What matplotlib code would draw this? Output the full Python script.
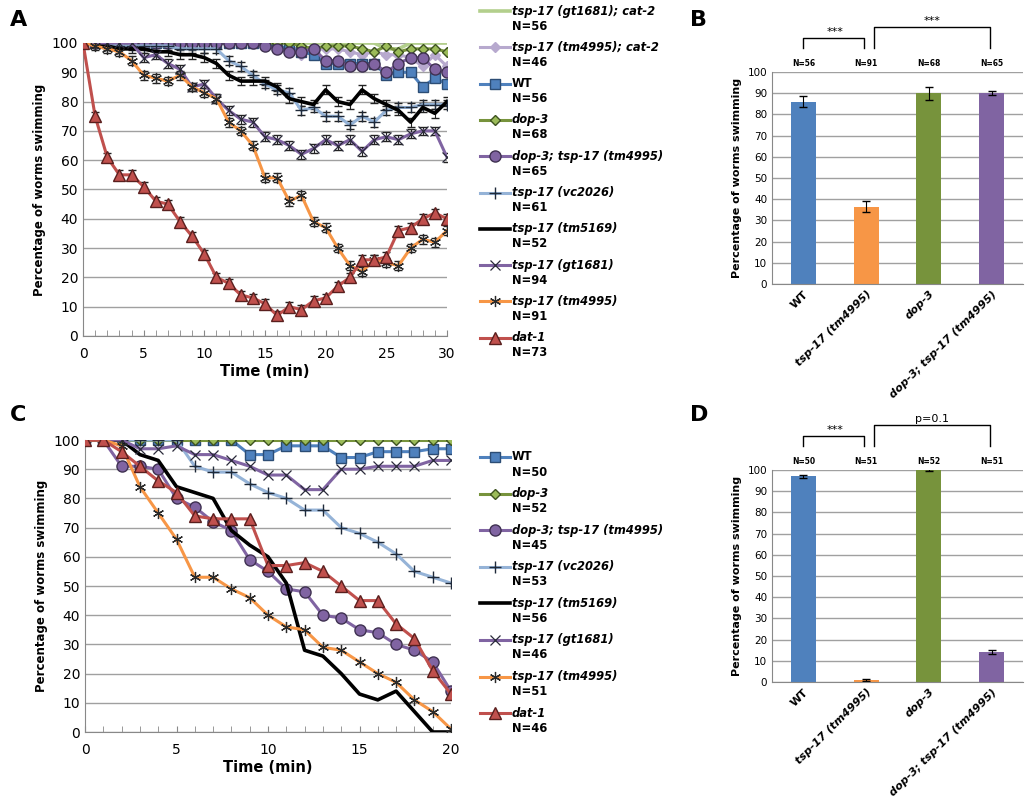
import matplotlib
matplotlib.use("Agg")
import matplotlib.pyplot as plt
from matplotlib.lines import Line2D
import numpy as np

tA = list(range(31))
A = {
 "gt1681_cat2": [100]*24 + [100,98,98,100,100,100,100],
 "tm4995_cat2": [100]*15 + [100,100,100,96,98,98,98,97,96,97,96,96,95,92,96,92],
 "WT":   [100]*16 + [99,98,97,96,93,93,93,93,93,89,90,90,85,88,86],
 "dop3": [100]*18 + [99,98,99,99,99,98,97,99,97,98,98,98,97],
 "dop3_tm4995": [100]*15 + [99,98,97,97,98,94,94,92,92,93,90,93,95,95,91,90],
 "vc2026": [100,100,100,99,99,99,99,99,98,98,98,98,94,92,89,86,84,83,77,78,75,75,72,75,73,77,78,78,79,79,79],
 "tm5169": [100,100,99,98,98,98,97,97,96,96,95,93,89,87,87,87,85,81,80,79,84,80,79,84,81,79,77,73,78,76,80],
 "gt1681": [100,100,100,100,100,95,96,93,91,85,86,81,77,74,73,68,67,65,62,64,67,65,67,63,67,68,67,69,70,70,61],
 "tm4995": [100,99,98,97,94,89,88,87,89,85,83,81,73,70,65,54,54,46,48,39,37,30,24,22,26,25,24,30,33,32,36],
 "dat1": [100,75,61,55,55,51,46,45,39,34,28,20,18,14,13,11,7,10,9,12,13,17,20,26,26,27,36,37,40,42,40],
}
tC = list(range(21))
C = {
 "WT": [100,100,100,100,100,100,100,100,100,95,95,98,98,98,94,94,96,96,96,97,97],
 "dop3": [100]*21,
 "dop3_tm4995": [100,100,91,91,90,80,77,72,69,59,55,49,48,40,39,35,34,30,28,24,14],
 "vc2026": [100,100,100,100,100,100,91,89,89,85,82,80,76,76,70,68,65,61,55,53,51],
 "tm5169": [100,100,100,95,93,84,82,80,69,64,60,51,28,26,20,13,11,14,7,0,0],
 "gt1681": [100,100,100,97,97,98,95,95,93,91,88,88,83,83,90,90,91,91,91,93,93],
 "tm4995": [100,100,98,84,75,66,53,53,49,46,40,36,35,29,28,24,20,17,11,7,1],
 "dat1": [100,100,96,91,86,82,74,73,73,73,57,57,58,55,50,45,45,37,32,21,13],
}
NA = {"gt1681_cat2":56,"tm4995_cat2":46,"WT":56,"dop3":68,"dop3_tm4995":65,"vc2026":61,"tm5169":52,"gt1681":94,"tm4995":91,"dat1":73}
NC = {"WT":50,"dop3":52,"dop3_tm4995":45,"vc2026":53,"tm5169":56,"gt1681":46,"tm4995":51,"dat1":46}
names = {"gt1681_cat2":"tsp-17 (gt1681); cat-2","tm4995_cat2":"tsp-17 (tm4995); cat-2","WT":"WT","dop3":"dop-3",
 "dop3_tm4995":"dop-3; tsp-17 (tm4995)","vc2026":"tsp-17 (vc2026)","tm5169":"tsp-17 (tm5169)","gt1681":"tsp-17 (gt1681)",
 "tm4995":"tsp-17 (tm4995)","dat1":"dat-1"}
style = {
 "gt1681_cat2": dict(color="#B3CF8C", marker=None),
 "tm4995_cat2": dict(color="#B7A9CE", marker="D", ms=5.5, mfc="#B7A9CE", mec="#B7A9CE"),
 "WT": dict(color="#4F81BD", marker="s", ms=7, mfc="#4F81BD", mec="#2C4D75"),
 "dop3": dict(color="#77933C", marker="D", ms=5, mfc="#9BBB59", mec="#3E5320"),
 "dop3_tm4995": dict(color="#8064A2", marker="o", ms=8, mfc="#8064A2", mec="#3F3151"),
 "vc2026": dict(color="#95B3D7", marker="+", ms=8, mec="#1F2A3A", mew=1.0),
 "tm5169": dict(color="black", marker=None),
 "gt1681": dict(color="#8064A2", marker="x", ms=7, mec="#2A2A3A", mew=0.9),
 "tm4995": dict(color="#F79646", marker=(6,2,0), ms=8, mec="#2A2A2A", mew=0.9),
 "dat1": dict(color="#C0504D", marker="^", ms=8, mfc="#C0504D", mec="#5A1F1E"),
}
barsx = ["WT","tsp-17 (tm4995)","dop-3","dop-3; tsp-17 (tm4995)"]
B_val=[86,36.5,90,90]; B_err=[2.5,2.5,3,1]; B_N=[56,91,68,65]
D_val=[97,1,100,14]; D_err=[0.7,0.3,0.3,1]; D_N=[50,51,52,51]
barcol=["#4F81BD","#F79646","#77933C","#8064A2"]

fig = plt.figure(figsize=(10.3,8), dpi=100)
W,H=1030,800
def ax_at(l,t,r,b): return fig.add_axes([l/W,1-b/H,(r-l)/W,(b-t)/H])

def line_panel(ax, t, data, N, xmax, step, lx, ly0, dy):
    for i,(k,v) in enumerate(data.items()):
        s=dict(style[k]); c=s.pop("color"); m=s.pop("marker")
        lw=2.6 if k in ("tm5169","gt1681_cat2") else 2.2
        if k in ("tm5169","dat1","tm4995","gt1681","vc2026") and xmax==30:
            ax.errorbar(t,v,yerr=1.5,fmt="none",ecolor="#222222",elinewidth=0.8,capsize=3,zorder=2)
        ax.plot(t,v,color=c,lw=lw,marker=m,zorder=3,**s)
        y=ly0+i*dy
        fig.add_artist(Line2D([lx/W,(lx+30)/W],[1-y/H]*2,color=c,lw=lw))
        if m is not None:
            fig.add_artist(Line2D([(lx+15)/W],[1-y/H],color=c,lw=0,marker=m,**s))
        fig.text((lx+32)/W,1-y/H,names[k],fontsize=8.3,fontweight="bold",
                 fontstyle="normal" if k=="WT" else "italic",va="center")
        fig.text((lx+32)/W,1-(y+15)/H,"N=%d"%N[k],fontsize=8.3,fontweight="bold",va="center")
    ax.set_xlim(0,xmax); ax.set_ylim(0,100)
    ax.set_yticks(range(0,101,10)); ax.set_xticks(range(0,xmax+1,step))
    ax.set_xticks(range(0,xmax+1),minor=True)
    ax.yaxis.grid(True,color="#A0A0A0",lw=1); ax.set_axisbelow(True)
    for sp in ["top","right"]: ax.spines[sp].set_visible(False)
    for sp in ["left","bottom"]: ax.spines[sp].set_color("#888888")
    ax.tick_params(axis="y",length=0,labelsize=10)
    ax.tick_params(axis="x",which="both",direction="in",length=4,color="#888888",labelsize=10,pad=8)
    ax.set_ylabel("Percentage of worms swimming",fontsize=8.5,fontweight="bold")
    ax.set_xlabel("Time (min)",fontsize=10.5,fontweight="bold",labelpad=2)

axA=ax_at(83,43,447,336)
line_panel(axA,tA,A,NA,30,5,480,11,36.3)
axC=ax_at(85,440,451,732)
line_panel(axC,tC,C,NC,20,5,480,457,36.6)

def bar_panel(ax,vals,errs,Ns,sig2):
    x=np.arange(4)
    ax.bar(x,vals,width=0.4,color=barcol,yerr=errs,capsize=3,error_kw=dict(elinewidth=0.8,ecolor="black"))
    ax.set_ylim(0,100); ax.set_xlim(-0.5,3.5)
    ax.set_yticks(range(0,101,10)); ax.yaxis.grid(True,color="#A0A0A0",lw=1); ax.set_axisbelow(True)
    for sp in ["top","right"]: ax.spines[sp].set_visible(False)
    for sp in ["left","bottom"]: ax.spines[sp].set_color("#888888")
    ax.tick_params(axis="y",length=0,labelsize=7.5); ax.tick_params(axis="x",length=0)
    ax.set_xticks(x); ax.set_xticklabels(barsx,rotation=45,ha="right",rotation_mode="anchor",fontsize=8,fontweight="bold",fontstyle="italic")
    ax.get_xticklabels()[0].set_fontstyle("normal")
    ax.set_ylabel("Percentage of worms swimming",fontsize=8,fontweight="bold")
    for i,n in enumerate(Ns): ax.text(i,102,"N=%d"%n,ha="center",va="bottom",fontsize=5.5,fontweight="bold")
    kw=dict(color="black",lw=1,clip_on=False)
    ax.plot([0,0,0.97,0.97],[111.5,116,116,111.5],**kw)
    ax.plot([1.13,1.13,2.97,2.97],[111.5,121,121,111.5],**kw)
    ax.text(0.5,116.5,"***",ha="center",va="bottom",fontsize=8)
    ax.text(2.05,121.5,sig2,ha="center",va="bottom",fontsize=8)

axB=ax_at(772,72,1023,284)
bar_panel(axB,B_val,B_err,B_N,"***")
axD=ax_at(772,470,1023,682)
bar_panel(axD,D_val,D_err,D_N,"p=0.1")

for lab,(x,y) in zip("ABCD",[(10,10),(690,10),(10,405),(690,405)]):
    fig.text(x/W,1-y/H,lab,fontsize=16,fontweight="bold",va="top")
fig.savefig("out.png",dpi=100)
